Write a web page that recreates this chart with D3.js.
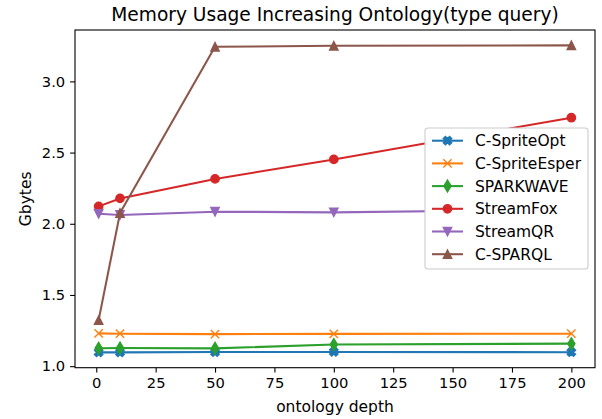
<!DOCTYPE html>
<html>
<head>
<meta charset="utf-8">
<script src="https://cdn.jsdelivr.net/npm/d3@7"></script>
<style>
  body { margin: 0; background: #fff; }
  text { font-family: "DejaVu Sans", sans-serif; fill: #000; }
</style>
</head>
<body>
<script>
// data
var depths = [1, 10, 50, 100, 200];
var seriesNames = ['C-SpriteOpt', 'C-SpriteEsper', 'SPARKWAVE', 'StreamFox', 'StreamQR', 'C-SPARQL'];
var cSpriteOpt   = [1.097, 1.097, 1.099, 1.100, 1.098];
var cSpriteEsper = [1.230, 1.228, 1.225, 1.227, 1.228];
var sparkwave    = [1.126, 1.127, 1.125, 1.152, 1.158];
var streamFox    = [2.122, 2.178, 2.315, 2.452, 2.745];
var streamQR     = [2.070, 2.062, 2.085, 2.080, 2.100];
var cSparql      = [1.323, 2.075, 3.243, 3.250, 3.253];
var xTicks = [0, 25, 50, 75, 100, 125, 150, 175, 200];
var yTicks = [1.0, 1.5, 2.0, 2.5, 3.0];
var colors = ['#1f77b4', '#ff7f0e', '#2ca02c', '#d62728', '#9467bd', '#8c564b'];
var markers = ['Xfill', 'x', 'thin_d', 'o', 'v', '^'];

var allSeries = [cSpriteOpt, cSpriteEsper, sparkwave, streamFox, streamQR, cSparql];

var W = 602, H = 419;
var margin = {left: 75, right: 7, top: 30, bottom: 51.3};

var svg = d3.select('body').append('svg')
  .attr('width', W).attr('height', H);

// matplotlib style 5% margins on data range
var xmin = d3.min(depths), xmax = d3.max(depths);
var xpad = (xmax - xmin) * 0.05;
var allVals = [].concat.apply([], allSeries);
var ymin = d3.min(allVals), ymax = d3.max(allVals);
var ypad = (ymax - ymin) * 0.05;

var x = d3.scaleLinear().domain([xmin - xpad, xmax + xpad]).range([margin.left, W - margin.right]);
var y = d3.scaleLinear().domain([ymin - ypad, ymax + ypad]).range([H - margin.bottom, margin.top]);

var ms = 8.33; // marker size px

function markerPath(kind, s) {
  var h = s / 2;
  if (kind == 'o') {
    return d3.symbol(d3.symbolCircle, Math.PI * h * h)();
  }
  if (kind == '^') {
    return 'M0,' + (-h) + 'L' + (-h) + ',' + h + 'L' + h + ',' + h + 'Z';
  }
  if (kind == 'v') {
    return 'M0,' + h + 'L' + (-h) + ',' + (-h) + 'L' + h + ',' + (-h) + 'Z';
  }
  if (kind == 'thin_d') {
    var dy = s * 0.7071, dx = dy * 0.6;
    return 'M0,' + (-dy) + 'L' + dx + ',0L0,' + dy + 'L' + (-dx) + ',0Z';
  }
  if (kind == 'x') {
    return 'M' + (-h) + ',' + (-h) + 'L' + h + ',' + h + 'M' + (-h) + ',' + h + 'L' + h + ',' + (-h);
  }
  // filled X
  var pts = [[0.25, 0], [0.5, 0.25], [0.75, 0], [1, 0.25], [0.75, 0.5], [1, 0.75],
             [0.75, 1], [0.5, 0.75], [0.25, 1], [0, 0.75], [0.25, 0.5], [0, 0.25]];
  return 'M' + pts.map(function(p){ return ((p[0] - 0.5) * s) + ',' + ((p[1] - 0.5) * s); }).join('L') + 'Z';
}

function drawMarker(g, kind, color) {
  if (kind == 'x') {
    g.append('path').attr('d', markerPath(kind, ms))
      .attr('fill', 'none').attr('stroke', color).attr('stroke-width', 1.4);
  } else {
    g.append('path').attr('d', markerPath(kind, ms))
      .attr('fill', color).attr('stroke', color).attr('stroke-width', 1.4)
      .attr('stroke-linejoin', 'miter');
  }
}

// axes ticks
var xAxis = svg.append('g').attr('transform', 'translate(0,' + (H - margin.bottom) + ')')
  .call(d3.axisBottom(x).tickValues(xTicks).tickSize(4.9).tickPadding(4.9).tickFormat(d3.format('d')));
var yAxis = svg.append('g').attr('transform', 'translate(' + margin.left + ',0)')
  .call(d3.axisLeft(y).tickValues(yTicks).tickSize(4.9).tickPadding(4.9).tickFormat(d3.format('.1f')));
[xAxis, yAxis].forEach(function(a){
  a.select('.domain').remove();
  a.selectAll('line').attr('stroke', '#000').attr('stroke-width', 1.1);
  a.selectAll('text').attr('font-size', 14.7).attr('font-family', '"DejaVu Sans", sans-serif').attr('fill', '#000');
});

// lines + markers
var line = d3.line()
  .x(function(d, i){ return x(depths[i]); })
  .y(function(d){ return y(d); });

allSeries.forEach(function(vals, k){
  svg.append('path').datum(vals)
    .attr('d', line)
    .attr('fill', 'none')
    .attr('stroke', colors[k])
    .attr('stroke-width', 2.08)
    .attr('stroke-linejoin', 'round');
  vals.forEach(function(v, i){
    var g = svg.append('g').attr('transform', 'translate(' + x(depths[i]) + ',' + y(v) + ')');
    drawMarker(g, markers[k], colors[k]);
  });
});

// frame
svg.append('rect')
  .attr('x', margin.left).attr('y', margin.top)
  .attr('width', W - margin.left - margin.right)
  .attr('height', H - margin.top - margin.bottom)
  .attr('fill', 'none').attr('stroke', '#000').attr('stroke-width', 1.1);

// legend
var lg = svg.append('g').attr('transform', 'translate(425,128)');
lg.append('rect')
  .attr('width', 163).attr('height', 141).attr('rx', 3).attr('ry', 3)
  .attr('fill', '#fff').attr('stroke', '#cccccc').attr('stroke-width', 1.1);
seriesNames.forEach(function(name, k){
  var cy = 12.7 + k * 22.7;
  lg.append('line').attr('x1', 7).attr('x2', 38).attr('y1', cy).attr('y2', cy)
    .attr('stroke', colors[k]).attr('stroke-width', 2.08);
  var g = lg.append('g').attr('transform', 'translate(22.5,' + cy + ')');
  drawMarker(g, markers[k], colors[k]);
  lg.append('text').attr('x', 50).attr('y', cy + 5.6).attr('font-size', 15.5).text(name);
});

// titles
svg.append('text').attr('x', (margin.left + W - margin.right) / 2).attr('y', 21)
  .attr('text-anchor', 'middle').attr('font-size', 18.6)
  .text('Memory Usage Increasing Ontology(type query)');
svg.append('text').attr('x', (margin.left + W - margin.right) / 2).attr('y', 412)
  .attr('text-anchor', 'middle').attr('font-size', 15.5)
  .text('ontology depth');
svg.append('text')
  .attr('transform', 'translate(31,' + ((margin.top + H - margin.bottom) / 2) + ') rotate(-90)')
  .attr('text-anchor', 'middle').attr('font-size', 15.5)
  .text('Gbytes');
</script>
</body>
</html>
